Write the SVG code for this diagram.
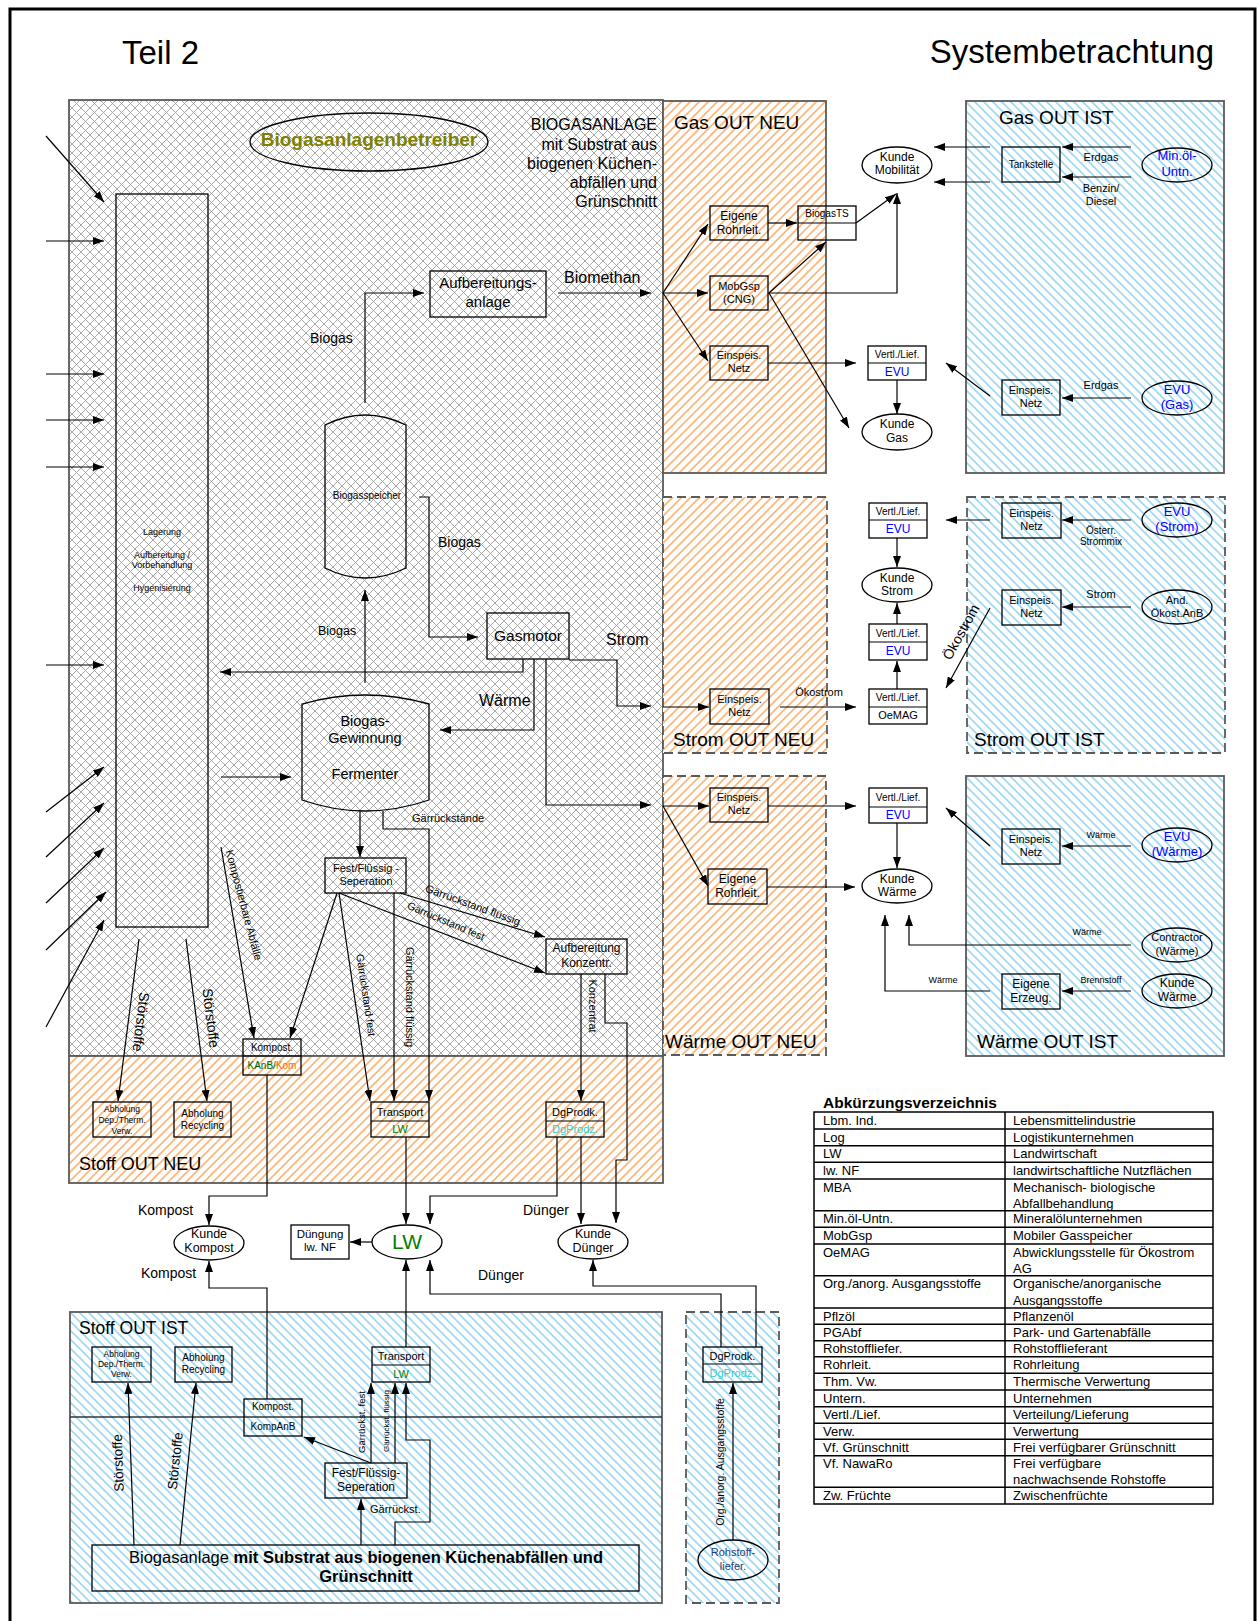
<svg xmlns="http://www.w3.org/2000/svg" width="1257" height="1621" viewBox="0 0 1257 1621">
<style>
text{font-family:"Liberation Sans",Arial,sans-serif;fill:#000}
.c{text-anchor:middle}
.e{text-anchor:end}
.bd{font-weight:bold}
.b{fill:none;stroke:#000;stroke-width:1.3}
.l{fill:none;stroke:#000;stroke-width:1.2}
.a{marker-end:url(#ah)}
.pn{stroke:#5a5a5a;stroke-width:1.8}
.ds{stroke-dasharray:9,5}
.s8{font-size:8px}.s85{font-size:8.5px}.s9{font-size:9px}.s95{font-size:9.5px}.s10{font-size:10px}.s105{font-size:10.5px}.s11{font-size:11px}.s12{font-size:12px}.s125{font-size:12.5px}.s13{font-size:13px}.s14{font-size:14px}.s145{font-size:14.5px}.s15{font-size:15px}.s16{font-size:16px}.s19{font-size:19px}.s33{font-size:33px}
.blue{fill:#0000ff}.grn{fill:#008000}.cy{fill:#33cccc}
.lg{font-size:13px}
</style>
<defs>
<marker id="ah" viewBox="0 0 11 8" refX="11" refY="4" markerWidth="11" markerHeight="8" markerUnits="userSpaceOnUse" orient="auto"><path d="M0,0 L11,4 L0,8 z" fill="#000"/></marker>
<pattern id="cross" width="9" height="9" patternUnits="userSpaceOnUse"><rect width="9" height="9" fill="#fff"/><path d="M0,0 L9,9 M9,0 L0,9" stroke="#a0a0a0" stroke-width="0.9"/></pattern>
<pattern id="or" width="9" height="9" patternUnits="userSpaceOnUse"><rect width="9" height="9" fill="#fff"/><path d="M-1,1 L1,-1 M0,9 L9,0 M8,10 L10,8" stroke="#fbb77a" stroke-width="1.7"/></pattern>
<pattern id="bl" width="9" height="9" patternUnits="userSpaceOnUse"><rect width="9" height="9" fill="#fff"/><path d="M-1,8 L1,10 M0,0 L9,9 M8,-1 L10,1" stroke="#9fd8f3" stroke-width="1.7"/></pattern>
</defs>
<rect width="1257" height="1621" fill="#fff"/>
<path d="M10,1621 V9 H1255 V1621" fill="none" stroke="#000" stroke-width="3"/>
<text x="122" y="64" class="s33">Teil 2</text>
<text x="1214" y="63" class="s33 e">Systembetrachtung</text>

<g id="panels">
<rect id="main-panel" x="69" y="100" width="594" height="956" fill="url(#cross)" class="pn"/>
<rect id="stoff-out-neu" x="69" y="1056" width="594" height="127" fill="url(#or)" class="pn"/>
<rect id="gas-out-neu" x="663" y="101" width="163" height="372" fill="url(#or)" class="pn"/>
<rect id="gas-out-ist" x="966" y="101" width="258" height="372" fill="url(#bl)" class="pn"/>
<rect id="strom-out-neu" x="663" y="497" width="164" height="256" fill="url(#or)" class="pn ds"/>
<rect id="strom-out-ist" x="967" y="497" width="258" height="256" fill="url(#bl)" class="pn ds"/>
<rect id="waerme-out-neu" x="663" y="776" width="163" height="279" fill="url(#or)" class="pn ds"/>
<rect id="waerme-out-ist" x="966" y="776" width="258" height="280" fill="url(#bl)" class="pn"/>
<rect id="stoff-out-ist" x="70" y="1312" width="592" height="291" fill="url(#bl)" class="pn"/>
<line x1="70" y1="1417" x2="662" y2="1417" stroke="#333" stroke-width="1.5"/>
<rect id="rohstoff-panel" x="686" y="1312" width="93" height="291" fill="url(#bl)" class="pn ds"/>
<text x="674" y="129" class="s19">Gas OUT NEU</text>
<text x="999" y="124" class="s19">Gas OUT IST</text>
<text x="673" y="746" class="s19">Strom OUT NEU</text>
<text x="974" y="746" class="s19">Strom OUT IST</text>
<text x="665" y="1048" class="s19">Wärme OUT NEU</text>
<text x="977" y="1048" class="s19">Wärme OUT IST</text>
<text x="79" y="1170" style="font-size:18px">Stoff OUT NEU</text>
<text x="79" y="1334" style="font-size:17.5px">Stoff OUT IST</text>
<text class="e s16"><tspan x="657" y="130">BIOGASANLAGE</tspan><tspan x="657" y="150">mit Substrat aus</tspan><tspan x="657" y="169">biogenen Küchen-</tspan><tspan x="657" y="188">abfällen und</tspan><tspan x="657" y="207">Grünschnitt</tspan></text>
</g>

<g id="betreiber"><ellipse cx="369" cy="142" rx="119" ry="29" class="b"/><text x="369" y="146" class="c bd s19" style="fill:#808000">Biogasanlagenbetreiber</text></g>

<g id="lagerung"><rect x="116" y="194" width="92" height="733" class="b"/>
<text class="c s9"><tspan x="162" y="535">Lagerung</tspan><tspan x="162" y="558">Aufbereitung /</tspan><tspan x="162" y="568">Vorbehandlung</tspan><tspan x="162" y="591">Hygenisierung</tspan></text></g>

<g id="aufbereitungsanlage"><rect x="430" y="271" width="116" height="46" class="b"/><text class="c s15"><tspan x="488" y="288">Aufbereitungs-</tspan><tspan x="488" y="307">anlage</tspan></text></g>

<g id="biogasspeicher"><path d="M325,425 Q365,405 406,425 V568 Q365,588 325,568 Z" class="b"/><text x="367" y="499" class="c s10">Biogasspeicher</text></g>

<g id="gasmotor"><rect x="487" y="613" width="82" height="46" class="b"/><text x="528" y="641" class="c" style="font-size:15.5px">Gasmotor</text></g>

<g id="fermenter"><path d="M302,704 Q365,686 429,704 V800 Q365,822 302,800 Z" class="b"/><text class="c s145"><tspan x="365" y="726">Biogas-</tspan><tspan x="365" y="743">Gewinnung</tspan><tspan x="365" y="779">Fermenter</tspan></text></g>

<g id="fest-fluessig-neu"><rect x="325" y="858" width="81" height="35" class="b"/><text class="c s11"><tspan x="366" y="872">Fest/Flüssig -</tspan><tspan x="366" y="885">Seperation</tspan></text></g>

<g id="aufbereitung-konzentr"><rect x="546" y="939" width="81" height="35" class="b"/><text class="c s12"><tspan x="586.5" y="952">Aufbereitung</tspan><tspan x="586.5" y="967">Konzentr.</tspan></text></g>

<g id="kompost-neu"><rect x="243" y="1039" width="58" height="36" class="b"/><line x1="243" y1="1056" x2="301" y2="1056" class="l"/><text x="272" y="1051" class="c s10">Kompost.</text><text x="272" y="1069" class="c s10"><tspan style="fill:#006400">KAnB/</tspan><tspan style="fill:#ff6600">Kom</tspan></text></g>

<g id="abholung-dep-neu"><rect x="93" y="1102" width="58" height="35" class="b"/><text class="c s85"><tspan x="122" y="1112">Abholung</tspan><tspan x="122" y="1123">Dep./Therm.</tspan><tspan x="122" y="1134">Verw.</tspan></text></g>
<g id="abholung-rec-neu"><rect x="174" y="1102" width="57" height="35" class="b"/><text class="c s10"><tspan x="202.5" y="1117">Abholung</tspan><tspan x="202.5" y="1129">Recycling</tspan></text></g>
<g id="transport-neu"><rect x="371" y="1102" width="58" height="35" class="b"/><line x1="371" y1="1121" x2="429" y2="1121" class="l"/><text x="400" y="1116" class="c s11">Transport</text><text x="400" y="1133" class="c s11 grn">LW</text></g>
<g id="dgprodk-neu"><rect x="546" y="1102" width="58" height="35" class="b"/><line x1="546" y1="1121" x2="604" y2="1121" class="l"/><text x="575" y="1116" class="c s11">DgProdk.</text><text x="575" y="1133" class="c s11 cy">DgProdz.</text></g>

<g id="kunde-kompost"><ellipse cx="209" cy="1243" rx="35" ry="17" class="b" fill="#fff"/><text class="c s125"><tspan x="209" y="1238">Kunde</tspan><tspan x="209" y="1252">Kompost</tspan></text></g>
<g id="lw"><ellipse cx="407" cy="1242" rx="35" ry="17" class="b"/><text x="407" y="1249" class="c grn" style="font-size:21px">LW</text></g>
<g id="duengung"><rect x="291" y="1225" width="58" height="34" class="b"/><text class="c" style="font-size:11.5px"><tspan x="320" y="1238">Düngung</tspan><tspan x="320" y="1251">lw. NF</tspan></text></g>
<g id="kunde-duenger"><ellipse cx="593" cy="1242" rx="35" ry="17" class="b"/><text class="c s125"><tspan x="593" y="1238">Kunde</tspan><tspan x="593" y="1252">Dünger</tspan></text></g>

<g id="abholung-dep-ist"><rect x="92" y="1347" width="59" height="35" class="b"/><text class="c s85"><tspan x="121.5" y="1357">Abholung</tspan><tspan x="121.5" y="1367">Dep./Therm.</tspan><tspan x="121.5" y="1377">Verw.</tspan></text></g>
<g id="abholung-rec-ist"><rect x="175" y="1347" width="57" height="35" class="b"/><text class="c s10"><tspan x="203.5" y="1361">Abholung</tspan><tspan x="203.5" y="1373">Recycling</tspan></text></g>
<g id="kompost-ist"><rect x="244" y="1399" width="58" height="37" class="b"/><text x="273" y="1410" class="c s10">Kompost.</text><text x="273" y="1430" class="c s10">KompAnB</text></g>
<g id="transport-ist"><rect x="372" y="1347" width="58" height="35" class="b"/><line x1="372" y1="1365" x2="430" y2="1365" class="l"/><text x="401" y="1360" class="c s11">Transport</text><text x="401" y="1378" class="c s11 grn">LW</text></g>
<g id="fest-fluessig-ist"><rect x="325" y="1463" width="82" height="35" class="b"/><text class="c s12"><tspan x="366" y="1477">Fest/Flüssig-</tspan><tspan x="366" y="1491">Seperation</tspan></text></g>
<g id="biogasanlage-ist"><rect x="92" y="1545" width="547" height="46" class="b"/><text x="366" y="1563" class="c" style="font-size:16.5px">Biogasanlage <tspan class="bd">mit Substrat aus biogenen  Küchenabfällen und</tspan></text><text x="366" y="1582" class="c bd" style="font-size:16.5px">Grünschnitt</text></g>
<g id="dgprodk-ist"><rect x="703" y="1347" width="59" height="35" class="b"/><line x1="703" y1="1364" x2="762" y2="1364" class="l"/><text x="732.5" y="1360" class="c s11">DgProdk.</text><text x="732.5" y="1377" class="c s11 cy">DgProdz.</text></g>
<g id="rohstofflieferant"><ellipse cx="733" cy="1560" rx="35" ry="20" class="b"/><text class="c s11" style="fill:#1f3d7a"><tspan x="733" y="1556">Rohstoff-</tspan><tspan x="733" y="1570">liefer.</tspan></text></g>

<g id="gas-eigene-rohrleit"><rect x="710" y="206" width="58" height="34" class="b"/><text class="c s12"><tspan x="739" y="220">Eigene</tspan><tspan x="739" y="234">Rohrleit.</tspan></text></g>
<g id="mobgsp"><rect x="710" y="276" width="58" height="34" class="b"/><text class="c s11"><tspan x="739" y="290">MobGsp</tspan><tspan x="739" y="303">(CNG)</tspan></text></g>
<g id="gas-einspeis-neu"><rect x="710" y="346" width="58" height="34" class="b"/><text class="c s11"><tspan x="739" y="359">Einspeis.</tspan><tspan x="739" y="372">Netz</tspan></text></g>
<g id="biogasts"><rect x="798" y="206" width="58" height="34" class="b"/><line x1="798" y1="223" x2="856" y2="223" class="l"/><text x="827" y="217" class="c s10">BiogasTS</text></g>
<g id="kunde-mobilitaet"><ellipse cx="897" cy="165" rx="35" ry="18" class="b"/><text class="c s12"><tspan x="897" y="161">Kunde</tspan><tspan x="897" y="174">Mobilität</tspan></text></g>
<g id="gas-evu"><rect x="868" y="346" width="58" height="34" class="b"/><line x1="868" y1="363" x2="926" y2="363" class="l"/><text x="897" y="358" class="c s10">Vertl./Lief.</text><text x="897" y="376" class="c s12 blue">EVU</text></g>
<g id="kunde-gas"><ellipse cx="897" cy="432" rx="35" ry="18" class="b"/><text class="c s12"><tspan x="897" y="428">Kunde</tspan><tspan x="897" y="442">Gas</tspan></text></g>
<g id="tankstelle"><rect x="1002" y="147" width="58" height="35" class="b"/><text x="1031" y="168" class="c s10">Tankstelle</text></g>
<g id="minoel"><ellipse cx="1177" cy="165" rx="35" ry="17" class="b"/><text class="c s13 blue"><tspan x="1177" y="160">Min.öl-</tspan><tspan x="1177" y="176">Untn.</tspan></text></g>
<g id="gas-einspeis-ist"><rect x="1002" y="380" width="58" height="35" class="b"/><text class="c s11"><tspan x="1031" y="394">Einspeis.</tspan><tspan x="1031" y="407">Netz</tspan></text></g>
<g id="evu-gas"><ellipse cx="1177" cy="398" rx="35" ry="17" class="b"/><text class="c s13 blue"><tspan x="1177" y="394">EVU</tspan><tspan x="1177" y="409">(Gas)</tspan></text></g>

<g id="strom-evu-top"><rect x="869" y="503" width="58" height="35" class="b"/><line x1="869" y1="520" x2="927" y2="520" class="l"/><text x="898" y="515" class="c s10">Vertl./Lief.</text><text x="898" y="533" class="c s12 blue">EVU</text></g>
<g id="kunde-strom"><ellipse cx="897" cy="585" rx="35" ry="17" class="b"/><text class="c s12"><tspan x="897" y="582">Kunde</tspan><tspan x="897" y="595">Strom</tspan></text></g>
<g id="strom-evu-mid"><rect x="869" y="624" width="58" height="36" class="b"/><line x1="869" y1="642" x2="927" y2="642" class="l"/><text x="898" y="637" class="c s10">Vertl./Lief.</text><text x="898" y="655" class="c s12 blue">EVU</text></g>
<g id="oemag"><rect x="869" y="689" width="58" height="35" class="b"/><line x1="869" y1="707" x2="927" y2="707" class="l"/><text x="898" y="701" class="c s10">Vertl./Lief.</text><text x="898" y="719" class="c s11">OeMAG</text></g>
<g id="strom-einspeis-neu"><rect x="710" y="689" width="59" height="35" class="b"/><text class="c s11"><tspan x="739.5" y="703">Einspeis.</tspan><tspan x="739.5" y="716">Netz</tspan></text></g>
<g id="strom-einspeis-ist1"><rect x="1002" y="503" width="59" height="35" class="b"/><text class="c s11"><tspan x="1031.5" y="517">Einspeis.</tspan><tspan x="1031.5" y="530">Netz</tspan></text></g>
<g id="strom-einspeis-ist2"><rect x="1002" y="590" width="59" height="35" class="b"/><text class="c s11"><tspan x="1031.5" y="604">Einspeis.</tspan><tspan x="1031.5" y="617">Netz</tspan></text></g>
<g id="evu-strom"><ellipse cx="1177" cy="520" rx="35" ry="17" class="b"/><text class="c s13 blue"><tspan x="1177" y="516">EVU</tspan><tspan x="1177" y="531">(Strom)</tspan></text></g>
<g id="and-oekost"><ellipse cx="1177" cy="607" rx="35" ry="17" class="b"/><text class="c s11"><tspan x="1177" y="604">And.</tspan><tspan x="1177" y="617">Ökost.AnB</tspan></text></g>

<g id="waerme-einspeis-neu"><rect x="710" y="788" width="58" height="34" class="b"/><text class="c s11"><tspan x="739" y="801">Einspeis.</tspan><tspan x="739" y="814">Netz</tspan></text></g>
<g id="waerme-eigene-rohrleit"><rect x="708" y="869" width="59" height="35" class="b"/><text class="c s12"><tspan x="737.5" y="883">Eigene</tspan><tspan x="737.5" y="897">Rohrleit.</tspan></text></g>
<g id="waerme-evu"><rect x="869" y="788" width="58" height="35" class="b"/><line x1="869" y1="807" x2="927" y2="807" class="l"/><text x="898" y="801" class="c s10">Vertl./Lief.</text><text x="898" y="819" class="c s12 blue">EVU</text></g>
<g id="kunde-waerme"><ellipse cx="897" cy="886" rx="35" ry="17" class="b"/><text class="c s12"><tspan x="897" y="883">Kunde</tspan><tspan x="897" y="896">Wärme</tspan></text></g>
<g id="waerme-einspeis-ist"><rect x="1002" y="829" width="58" height="35" class="b"/><text class="c s11"><tspan x="1031" y="843">Einspeis.</tspan><tspan x="1031" y="856">Netz</tspan></text></g>
<g id="evu-waerme"><ellipse cx="1177" cy="845" rx="35" ry="17" class="b"/><text class="c s13 blue"><tspan x="1177" y="841">EVU</tspan><tspan x="1177" y="856">(Wärme)</tspan></text></g>
<g id="contractor"><ellipse cx="1177" cy="945" rx="35" ry="17" class="b"/><text class="c s11"><tspan x="1177" y="941">Contractor</tspan><tspan x="1177" y="955">(Wärme)</tspan></text></g>
<g id="kunde-waerme-ist"><ellipse cx="1177" cy="991" rx="35" ry="17" class="b"/><text class="c s12"><tspan x="1177" y="987">Kunde</tspan><tspan x="1177" y="1001">Wärme</tspan></text></g>
<g id="eigene-erzeug"><rect x="1002" y="974" width="58" height="35" class="b"/><text class="c s12"><tspan x="1031" y="988">Eigene</tspan><tspan x="1031" y="1002">Erzeug.</tspan></text></g>

<g id="connectors">
<line x1="46" y1="136" x2="104" y2="202" class="l a"/>
<line x1="46" y1="241" x2="104" y2="241" class="l a"/>
<line x1="46" y1="374" x2="104" y2="374" class="l a"/>
<line x1="46" y1="420" x2="104" y2="420" class="l a"/>
<line x1="46" y1="467" x2="104" y2="467" class="l a"/>
<line x1="46" y1="665" x2="104" y2="665" class="l a"/>
<line x1="46" y1="812" x2="104" y2="767" class="l a"/>
<line x1="46" y1="857" x2="104" y2="803" class="l a"/>
<line x1="46" y1="903" x2="104" y2="848" class="l a"/>
<line x1="46" y1="950" x2="106" y2="892" class="l a"/>
<line x1="46" y1="1027" x2="104" y2="920" class="l a"/>
<path d="M365,403 V293 H424" class="l a"/>
<line x1="558" y1="293" x2="651" y2="293" class="l a"/>
<line x1="663" y1="293" x2="708" y2="224" class="l a"/>
<line x1="663" y1="293" x2="708" y2="293" class="l a"/>
<line x1="663" y1="293" x2="708" y2="361" class="l a"/>
<path d="M419,497 H429 V637 H478" class="l a"/>
<path d="M569,660 H617 V706 H651" class="l a"/>
<path d="M534,659 V730 H440" class="l a"/>
<path d="M546,659 V805 H651" class="l a"/>
<path d="M523,659 V672 H220" class="l a"/>
<path d="M365,683 V590" class="l a"/>
<line x1="221" y1="777" x2="291" y2="777" class="l a"/>
<path d="M360,811 V857" class="l a"/>
<path d="M383,811 V829 H429 V1101" class="l a"/>
<line x1="337" y1="893" x2="290" y2="1038" class="l a"/>
<line x1="339" y1="893" x2="370" y2="1101" class="l a"/>
<line x1="339" y1="893" x2="545" y2="973" class="l a"/>
<line x1="394" y1="893" x2="394" y2="1101" class="l a"/>
<line x1="400" y1="893" x2="545" y2="937" class="l a"/>
<line x1="581" y1="974" x2="581" y2="1101" class="l a"/>
<path d="M605,974 V1023 H627 V1160 H616 V1223" class="l a"/>
<line x1="221" y1="847" x2="254" y2="1038" class="l a"/>
<line x1="139" y1="939" x2="118" y2="1101" class="l a"/>
<line x1="186" y1="939" x2="207" y2="1101" class="l a"/>
<path d="M267,1075 V1196 H209 V1225" class="l a"/>
<path d="M406,1137 V1224" class="l a"/>
<path d="M557,1137 V1196 H430 V1224" class="l a"/>
<path d="M581,1137 V1224" class="l a"/>
<line x1="372" y1="1242" x2="350" y2="1242" class="l a"/>
<path d="M267,1399 V1288 H209 V1261" class="l a"/>
<path d="M406,1347 V1260" class="l a"/>
<path d="M721,1347 V1294 H430 V1260" class="l a"/>
<path d="M756,1347 V1286 H593 V1260" class="l a"/>
<line x1="134" y1="1545" x2="128" y2="1383" class="l a"/>
<line x1="180" y1="1545" x2="196" y2="1383" class="l a"/>
<path d="M361,1545 V1499" class="l a"/>
<path d="M371,1463 V1383" class="l a"/>
<path d="M395,1463 V1383" class="l a"/>
<path d="M395,1545 V1522 H430 V1440 H406 V1383" class="l a"/>
<line x1="371" y1="1463" x2="304" y2="1437" class="l a"/>
<path d="M733,1540 V1383" class="l a"/>
<line x1="990" y1="147" x2="934" y2="147" class="l a"/>
<line x1="990" y1="182" x2="934" y2="182" class="l a"/>
<line x1="1131" y1="147" x2="1062" y2="147" class="l a"/>
<line x1="1131" y1="177" x2="1062" y2="177" class="l a"/>
<line x1="1131" y1="398" x2="1062" y2="398" class="l a"/>
<line x1="990" y1="396" x2="946" y2="363" class="l a"/>
<line x1="768" y1="363" x2="856" y2="363" class="l a"/>
<path d="M897,380 V414" class="l a"/>
<line x1="769" y1="293" x2="849" y2="428" class="l a"/>
<line x1="769" y1="293" x2="826" y2="242" class="l a"/>
<path d="M768,293 H897 V193" class="l a"/>
<line x1="856" y1="223" x2="896" y2="194" class="l a"/>
<line x1="768" y1="223" x2="797" y2="223" class="l a"/>
<line x1="663" y1="707" x2="709" y2="707" class="l a"/>
<line x1="780" y1="707" x2="856" y2="707" class="l a"/>
<path d="M897,538 V567" class="l a"/>
<path d="M897,689 V661" class="l a"/>
<path d="M897,624 V603" class="l a"/>
<line x1="1131" y1="520" x2="1062" y2="520" class="l a"/>
<line x1="990" y1="520" x2="946" y2="520" class="l a"/>
<line x1="1131" y1="607" x2="1062" y2="607" class="l a"/>
<line x1="990" y1="608" x2="946" y2="688" class="l a"/>
<line x1="663" y1="806" x2="709" y2="806" class="l a"/>
<line x1="663" y1="806" x2="708" y2="886" class="l a"/>
<line x1="768" y1="806" x2="856" y2="806" class="l a"/>
<path d="M897,823 V868" class="l a"/>
<line x1="767" y1="887" x2="855" y2="887" class="l a"/>
<line x1="1131" y1="846" x2="1062" y2="846" class="l a"/>
<line x1="990" y1="846" x2="946" y2="808" class="l a"/>
<path d="M1131,945 H909 V915" class="l a"/>
<line x1="1131" y1="991" x2="1062" y2="991" class="l a"/>
<path d="M990,991 H885 V915" class="l a"/>
</g>

<g id="connector-labels">
<text x="310" y="343" class="s14">Biogas</text>
<text x="564" y="283" class="s16">Biomethan</text>
<text x="438" y="547" class="s14">Biogas</text>
<text x="318" y="635" class="s125">Biogas</text>
<text x="606" y="645" class="s16">Strom</text>
<text x="479" y="706" class="s16">Wärme</text>
<text x="412" y="822" class="s11">Gärrückstände</text>
<text class="c s11" transform="translate(244,905) rotate(75)" dy=".35em">Kompostierbare Abfälle</text>
<text class="c s14" transform="translate(141,1022) rotate(97)" dy=".35em">Störstoffe</text>
<text class="c s14" transform="translate(211,1018) rotate(83)" dy=".35em">Störstoffe</text>
<text class="c s105" transform="translate(366,995) rotate(81.5)" dy=".35em">Gärrückstand fest</text>
<text class="c s11" transform="translate(410,997) rotate(90)" dy=".35em">Gärrückstand flüssig</text>
<text class="c s11" transform="translate(473,905) rotate(20)" dy=".35em">Gärrückstand flüssig</text>
<text class="c s105" transform="translate(446,921) rotate(23)" dy=".35em">Gärrückstand fest</text>
<text class="c s11" transform="translate(593,1006) rotate(90)" dy=".35em">Konzentrat</text>
<text x="138" y="1215" class="s14">Kompost</text>
<text x="523" y="1215" class="s14">Dünger</text>
<text x="141" y="1278" class="s14">Kompost</text>
<text x="478" y="1280" class="s14">Dünger</text>
<text class="c" style="font-size:13.5px" transform="translate(118,1463) rotate(-92)" dy=".35em">Störstoffe</text>
<text class="c" style="font-size:13.5px" transform="translate(175,1461) rotate(-84)" dy=".35em">Störstoffe</text>
<text x="370" y="1513" class="s11">Gärrückst.</text>
<text class="c s95" transform="translate(362,1422) rotate(-90)" dy=".35em">Gärrückst. fest</text>
<text class="c s8" transform="translate(386,1421) rotate(-90)" dy=".35em">Gärrückst. flüssig</text>
<text class="c s105" transform="translate(720,1462) rotate(-90)" dy=".35em">Org./anorg. Ausgangsstoffe</text>
<text x="1101" y="161" class="c s11">Erdgas</text>
<text class="c s11"><tspan x="1101" y="192">Benzin/</tspan><tspan x="1101" y="205">Diesel</tspan></text>
<text x="1101" y="389" class="c s11">Erdgas</text>
<text x="819" y="696" class="c s11">Ökostrom</text>
<text class="c s10"><tspan x="1101" y="534">Österr.</tspan><tspan x="1101" y="545">Strommix</tspan></text>
<text x="1101" y="598" class="c s11">Strom</text>
<text class="c s14" transform="translate(961,632) rotate(-61)" dy=".35em">Ökostrom</text>
<text x="1101" y="838" class="c s9">Wärme</text>
<text x="1087" y="935" class="c s9">Wärme</text>
<text x="1101" y="983" class="c s9">Brennstoff</text>
<text x="943" y="983" class="c s9">Wärme</text>
</g>

<g id="legend">
<text x="823" y="1108" class="bd" style="font-size:15.5px">Abkürzungsverzeichnis</text>
<rect x="814" y="1112" width="399" height="392" fill="#fff" stroke="#000" stroke-width="1.5"/>
<line x1="1005" y1="1112" x2="1005" y2="1504" stroke="#000" stroke-width="1.5"/>
<path d="M814,1129 H1213 M814,1145.7 H1213 M814,1162.3 H1213 M814,1179 H1213 M814,1210.7 H1213 M814,1227.3 H1213 M814,1244 H1213 M814,1275.7 H1213 M814,1308 H1213 M814,1324.3 H1213 M814,1340.7 H1213 M814,1356.7 H1213 M814,1373.3 H1213 M814,1390 H1213 M814,1406.7 H1213 M814,1423.3 H1213 M814,1439.3 H1213 M814,1455.7 H1213 M814,1487.3 H1213" stroke="#000" stroke-width="1.5" fill="none"/>
<text class="lg">
<tspan x="823" y="1125">Lbm. Ind.</tspan><tspan x="823" y="1142">Log</tspan><tspan x="823" y="1158">LW</tspan><tspan x="823" y="1175">lw. NF</tspan><tspan x="823" y="1192">MBA</tspan><tspan x="823" y="1223">Min.öl-Untn.</tspan><tspan x="823" y="1240">MobGsp</tspan><tspan x="823" y="1257">OeMAG</tspan><tspan x="823" y="1288">Org./anorg. Ausgangsstoffe</tspan><tspan x="823" y="1321">Pflzöl</tspan><tspan x="823" y="1337">PGAbf</tspan><tspan x="823" y="1353">Rohstoffliefer.</tspan><tspan x="823" y="1369">Rohrleit.</tspan><tspan x="823" y="1386">Thm. Vw.</tspan><tspan x="823" y="1403">Untern.</tspan><tspan x="823" y="1419">Vertl./Lief.</tspan><tspan x="823" y="1436">Verw.</tspan><tspan x="823" y="1452">Vf. Grünschnitt</tspan><tspan x="823" y="1468">Vf. NawaRo</tspan><tspan x="823" y="1500">Zw. Früchte</tspan>
</text>
<text class="lg">
<tspan x="1013" y="1125">Lebensmittelindustrie</tspan><tspan x="1013" y="1142">Logistikunternehmen</tspan><tspan x="1013" y="1158">Landwirtschaft</tspan><tspan x="1013" y="1175">landwirtschaftliche Nutzflächen</tspan><tspan x="1013" y="1192">Mechanisch- biologische</tspan><tspan x="1013" y="1208">Abfallbehandlung</tspan><tspan x="1013" y="1223">Mineralölunternehmen</tspan><tspan x="1013" y="1240">Mobiler Gasspeicher</tspan><tspan x="1013" y="1257">Abwicklungsstelle für Ökostrom</tspan><tspan x="1013" y="1273">AG</tspan><tspan x="1013" y="1288">Organische/anorganische</tspan><tspan x="1013" y="1305">Ausgangsstoffe</tspan><tspan x="1013" y="1321">Pflanzenöl</tspan><tspan x="1013" y="1337">Park- und Gartenabfälle</tspan><tspan x="1013" y="1353">Rohstofflieferant</tspan><tspan x="1013" y="1369">Rohrleitung</tspan><tspan x="1013" y="1386">Thermische Verwertung</tspan><tspan x="1013" y="1403">Unternehmen</tspan><tspan x="1013" y="1419">Verteilung/Lieferung</tspan><tspan x="1013" y="1436">Verwertung</tspan><tspan x="1013" y="1452">Frei verfügbarer Grünschnitt</tspan><tspan x="1013" y="1468">Frei verfügbare</tspan><tspan x="1013" y="1484">nachwachsende Rohstoffe</tspan><tspan x="1013" y="1500">Zwischenfrüchte</tspan>
</text>
</g>
</svg>
